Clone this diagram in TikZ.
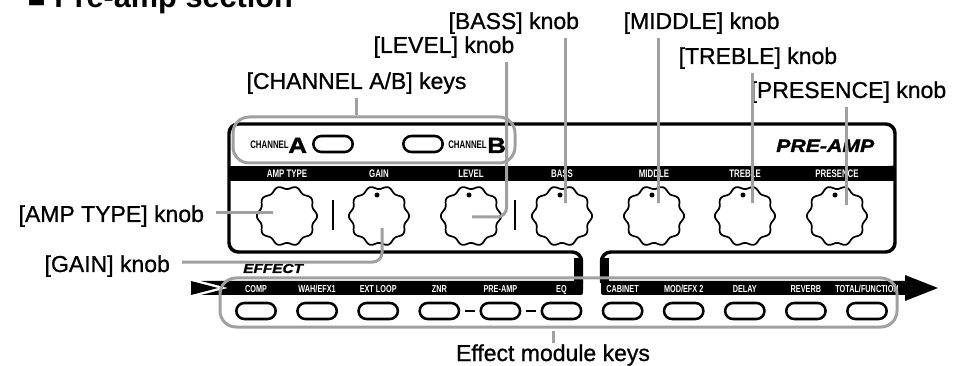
\documentclass[tikz,border=0pt]{standalone}
\usepackage{fontspec}
\setmainfont{Liberation Sans}
\newfontfamily\lblfont{Liberation Sans}[FakeBold=0.9]
\newfontfamily\panelfont{Liberation Sans}[FakeStretch=0.72]
\newfontfamily\heavyfont{Liberation Sans}[FakeStretch=1.18, FakeBold=1.6]
\usetikzlibrary{positioning,calc}
\definecolor{leadgray}{RGB}{160,160,160}
\tikzset{
  lbl/.style={font={\lblfont\fontsize{17.25}{20}\selectfont}, inner sep=1pt, anchor=base west},
  ttl/.style={font={\bfseries\fontsize{23}{26}\selectfont}, inner sep=0pt, anchor=base west},
  lead/.style={leadgray, line width=2.25pt, rounded corners=7pt, shorten <=2pt},
  grp/.style={draw=leadgray, line width=2.25pt, rounded corners=12pt, inner sep=0pt},
  frame/.style={black, line width=2.6pt},
  tag/.style={font={\panelfont\bfseries\fontsize{#1}{8}\selectfont}, text=white, anchor=base, inner sep=0pt},
  tag/.default=7.6,
  chsmall/.style={font={\panelfont\bfseries\fontsize{8.2}{9}\selectfont}, anchor=base west, inner sep=0pt},
  chbig/.style={font={\heavyfont\bfseries\fontsize{16.5}{18}\selectfont}, anchor=base west, inner sep=0pt},
  heavy/.style={font={\heavyfont\bfseries\itshape\fontsize{#1}{#1}\selectfont}, anchor=base west, inner sep=0pt},
  keybtn/.style={draw, line width=1.9pt, rounded corners=6pt, minimum width=29.5pt, minimum height=12pt, inner sep=0pt},
  knobline/.style={black, line width=1.3pt},
  linkbar/.style={black, line width=1.9pt, shorten <=3.5pt, shorten >=3.5pt},
}
\newcommand{\knob}[3]{%
  \coordinate (#2) at (#1,216);
  \draw[knobline, domain=0:360, samples=145, smooth, variable=\a]
       plot ({#1+(28.5+1.6*cos(10*\a))*cos(\a)}, {216+(28.5+1.6*cos(10*\a))*sin(\a)}) -- cycle;
  \ifnum#3=1 \fill (#1-2,195) circle (2.5); \fi}

\begin{document}
\begin{tikzpicture}[x=0.75pt, y=-0.75pt]
  \useasboundingbox (0,0) rectangle (966,366);
  \node[ttl] (title) at (27,8) {■ Pre-amp section};

  % panel frame and knob band
  \fill (229,166) rectangle (895,181);
  \fill (888,166) -- (895,166) -- (895,159) .. controls (895,166) .. (888,166) -- cycle;
  \draw[frame, rounded corners=7pt] (581.5,283) -- (581.5,252) -- (229,252) -- (229,124)
       -- (895,124) -- (895,252) -- (601.5,252) -- (601.5,283);
  \draw[line width=6.75pt] (578.5,258) -- (578.5,283);
  \draw[line width=6.75pt] (604.5,258) -- (604.5,283);
  \node[heavy=13.5] (pretitle) at (776,152) {PRE-AMP};

  % channel keys
  \node[keybtn] (chA) at (333,144) {};
  \node[keybtn] (chB) at (423,144) {};
  \node[chsmall] (chAtxt) at (250,149) {CHANNEL};
  \node[chbig] (chAlet) at (288,153) {A};
  \node[chsmall] (chBtxt) at (448,149) {CHANNEL};
  \node[chbig] (chBlet) at (487,153) {B};

  % knobs
  \foreach \x/\t [count=\i] in {287/AMP TYPE, 379/GAIN, 471/LEVEL, 562/BASS, 654/MIDDLE, 745/TREBLE, 837/PRESENCE}
    \node[tag=8.2] (kt\i) at (\x,178) {\t};
  \knob{287}{kamp}{0}
  \knob{379}{kgain}{1}
  \knob{471}{klevel}{1}
  \knob{562}{kbass}{1}
  \knob{654}{kmiddle}{1}
  \knob{745}{ktreble}{1}
  \knob{837}{kpres}{1}
  \draw[line width=2.2pt] (333,200) -- (333,230);
  \draw[line width=2.2pt] (515,200) -- (515,230);

  % effect strip
  \fill (191,281) -- (218,288) -- (191,295) -- cycle;
  \fill (201,281) -- (583,281) -- (583,290) .. controls (583,295) .. (578,295) -- (201,295) -- (228,288) -- cycle;
  \fill (601,281) -- (905,281) -- (905,275) -- (938,288) -- (905,301) -- (905,295) -- (606,295)
       .. controls (601,295) .. (601,290) -- cycle;
  \node[heavy=9.75] (efftitle) at (243,273) {EFFECT};
  \foreach \nm/\t [count=\i, evaluate=\i as \kx using 256+61.1*(\i-1)] in
      {comp/COMP, wah/{WAH/EFX1}, ext/EXT LOOP, znr/ZNR, pre/PRE-AMP, eq/EQ,
       cab/CABINET, mod/{MOD/EFX 2}, delay/DELAY, rev/REVERB, total/{TOTAL/FUNCTION}} {
    \node[tag] (e\nm) at (\kx,292) {\t};
    \node[keybtn] (k\nm) at (\kx,311) {};
  }
  \draw[linkbar] (kznr) -- (kpre);
  \draw[linkbar] (kpre) -- (keq);

  % callout labels
  \node[lbl] (lbass) at (447,29) {[BASS] knob};
  \node[lbl] (lmiddle) at (622,29) {[MIDDLE] knob};
  \node[lbl] (llevel) at (372,53) {[LEVEL] knob};
  \node[lbl] (ltreble) at (677,64) {[TREBLE] knob};
  \node[lbl] (lchan) at (245,89) {[CHANNEL A/B] keys};
  \node[lbl] (lpres) at (749,98) {[PRESENCE] knob};
  \node[lbl] (lamp) at (17,222) {[AMP TYPE] knob};
  \node[lbl] (lgain) at (43,272) {[GAIN] knob};
  \node[lbl, anchor=base] (leff) at (553,361) {Effect module keys};

  % grey callouts
  \node[grp, minimum width=211.5pt, minimum height=34.5pt] (chanbox) at (374,140) {};
  \node[grp, minimum width=507.75pt, minimum height=36.75pt] (effbox) at (558.5,302.5) {};
  \coordinate (pamp) at (273,213);
  \coordinate (pgain) at (382,228);
  \coordinate (plevel) at (472,217);
  \coordinate (pbass) at (565,203);
  \coordinate (pmiddle) at (658,203);
  \coordinate (ptreble) at (752,203);
  \coordinate (ppres) at (846,205);
  \draw[lead] (lchan.south) -- (lchan.south |- chanbox.north);
  \draw[lead] ([xshift=-7pt]llevel.south east) |- (plevel);
  \draw[lead] (lbass.south -| pbass) -- (pbass);
  \draw[lead] (lmiddle.south -| pmiddle) -- (pmiddle);
  \draw[lead] (ltreble.south -| ptreble) -- (ptreble);
  \draw[lead] (lpres.south -| ppres) -- (ppres);
  \draw[lead, shorten <=8pt] (pamp -| lamp.east) -- (pamp);
  \draw[lead, shorten <=8pt] ([yshift=3pt]lgain.east) -| (pgain);
  \draw[lead] (effbox.south -| leff.north) -- (leff.north);
\end{tikzpicture}
\end{document}
